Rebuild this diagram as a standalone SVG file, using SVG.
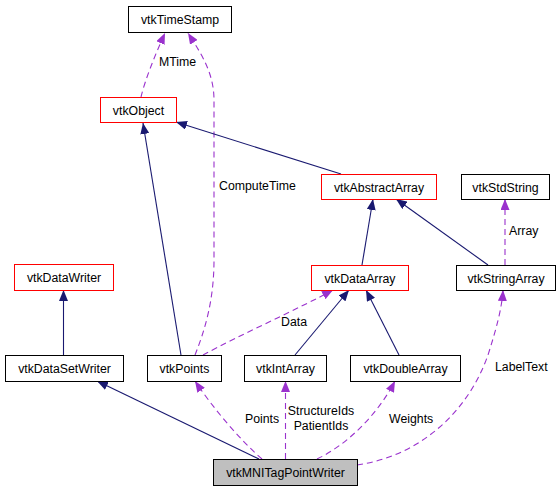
<svg xmlns="http://www.w3.org/2000/svg" width="560" height="491" viewBox="0 0 560 491">
<style>
  .box{fill:#ffffff;stroke:#000000;stroke-width:1}
  .red{stroke:#ff0000}
  .gray{fill:#bfbfbf}
  text{font-family:"Liberation Sans",Arial,sans-serif;font-size:12.3px;fill:#000000}
  .nt{text-anchor:middle}
  .inh{fill:none;stroke:#191970;stroke-width:1.1}
  .use{fill:none;stroke:#9a32cd;stroke-width:1.1;stroke-dasharray:6,4}
</style>
<defs>
  <marker id="ah" markerUnits="userSpaceOnUse" viewBox="0 0 11 9" refX="11" refY="4.5" markerWidth="11" markerHeight="9" orient="auto">
    <path d="M0,0 L11,4.5 L0,9 Z" fill="#191970"/>
  </marker>
  <marker id="ap" markerUnits="userSpaceOnUse" viewBox="0 0 11 9" refX="11" refY="4.5" markerWidth="11" markerHeight="9" orient="auto">
    <path d="M0,0 L11,4.5 L0,9 Z" fill="#9a32cd"/>
  </marker>
</defs>
<g id="connectors">
  <path class="use" d="M141,97 C145,80 155,55 165,33" marker-end="url(#ap)"/>
  <text x="159" y="66">MTime</text>
  <path class="use" d="M195,355 C205,330 214,300 214,260 L214,100 C214,72 200,52 188,33" marker-end="url(#ap)"/>
  <text x="219" y="190">ComputeTime</text>
  <path class="inh" d="M341,174 L176,122" marker-end="url(#ah)"/>
  <path class="inh" d="M181,355 L143,123" marker-end="url(#ah)"/>
  <path class="inh" d="M362,265 L373,199" marker-end="url(#ah)"/>
  <path class="inh" d="M488,265 L396,199" marker-end="url(#ah)"/>
  <path class="use" d="M505,265 L505,199" marker-end="url(#ap)"/>
  <text x="509" y="235">Array</text>
  <path class="inh" d="M295,355 L349,290" marker-end="url(#ah)"/>
  <path class="inh" d="M399,355 L366,290" marker-end="url(#ah)"/>
  <path class="use" d="M203,355 C240,335 300,308 333,290" marker-end="url(#ap)"/>
  <text x="281" y="326">Data</text>
  <path class="inh" d="M63.5,355 L63.5,290" marker-end="url(#ah)"/>
  <path class="inh" d="M259,459 L97,381" marker-end="url(#ah)"/>
  <path class="use" d="M262,459 C240,440 213,408 195,381" marker-end="url(#ap)"/>
  <text x="245" y="423">Points</text>
  <path class="use" d="M285.5,459 L285.5,381" marker-end="url(#ap)"/>
  <text x="321" y="415" class="nt">StructureIds</text>
  <text x="321" y="430" class="nt">PatientIds</text>
  <path class="use" d="M317,459 C345,446 377,416 395,381" marker-end="url(#ap)"/>
  <text x="389" y="423">Weights</text>
  <path class="use" d="M357,465 C420,456 468,412 488,355 C496,330 502,308 503,290" marker-end="url(#ap)"/>
  <text x="495" y="371">LabelText</text>
</g>
<g id="vtkTimeStamp"><rect class="box" x="128.5" y="6.5" width="103" height="26"/><text class="nt" x="180" y="24">vtkTimeStamp</text></g>
<g id="vtkObject"><rect class="box red" x="100.5" y="97.5" width="76" height="25"/><text class="nt" x="138.5" y="114.5">vtkObject</text></g>
<g id="vtkAbstractArray"><rect class="box red" x="321.5" y="174.5" width="115" height="25"/><text class="nt" x="379" y="191.5">vtkAbstractArray</text></g>
<g id="vtkStdString"><rect class="box" x="461.5" y="174.5" width="88" height="25"/><text class="nt" x="505.5" y="191.5">vtkStdString</text></g>
<g id="vtkDataArray"><rect class="box red" x="311.5" y="265.5" width="97" height="25"/><text class="nt" x="360" y="282.5">vtkDataArray</text></g>
<g id="vtkStringArray"><rect class="box" x="456.5" y="265.5" width="99" height="25"/><text class="nt" x="506" y="282.5">vtkStringArray</text></g>
<g id="vtkDataWriter"><rect class="box red" x="14.5" y="264.5" width="99" height="26"/><text class="nt" x="64" y="282">vtkDataWriter</text></g>
<g id="vtkDataSetWriter"><rect class="box" x="5.5" y="355.5" width="118" height="26"/><text class="nt" x="64.5" y="373">vtkDataSetWriter</text></g>
<g id="vtkPoints"><rect class="box" x="147.5" y="355.5" width="74" height="26"/><text class="nt" x="184.5" y="373">vtkPoints</text></g>
<g id="vtkIntArray"><rect class="box" x="244.5" y="355.5" width="82" height="26"/><text class="nt" x="285.5" y="373">vtkIntArray</text></g>
<g id="vtkDoubleArray"><rect class="box" x="350.5" y="355.5" width="110" height="26"/><text class="nt" x="405.5" y="373">vtkDoubleArray</text></g>
<g id="vtkMNITagPointWriter"><rect class="box gray" x="213.5" y="459.5" width="144" height="26"/><text class="nt" x="285.5" y="477">vtkMNITagPointWriter</text></g>
</svg>
